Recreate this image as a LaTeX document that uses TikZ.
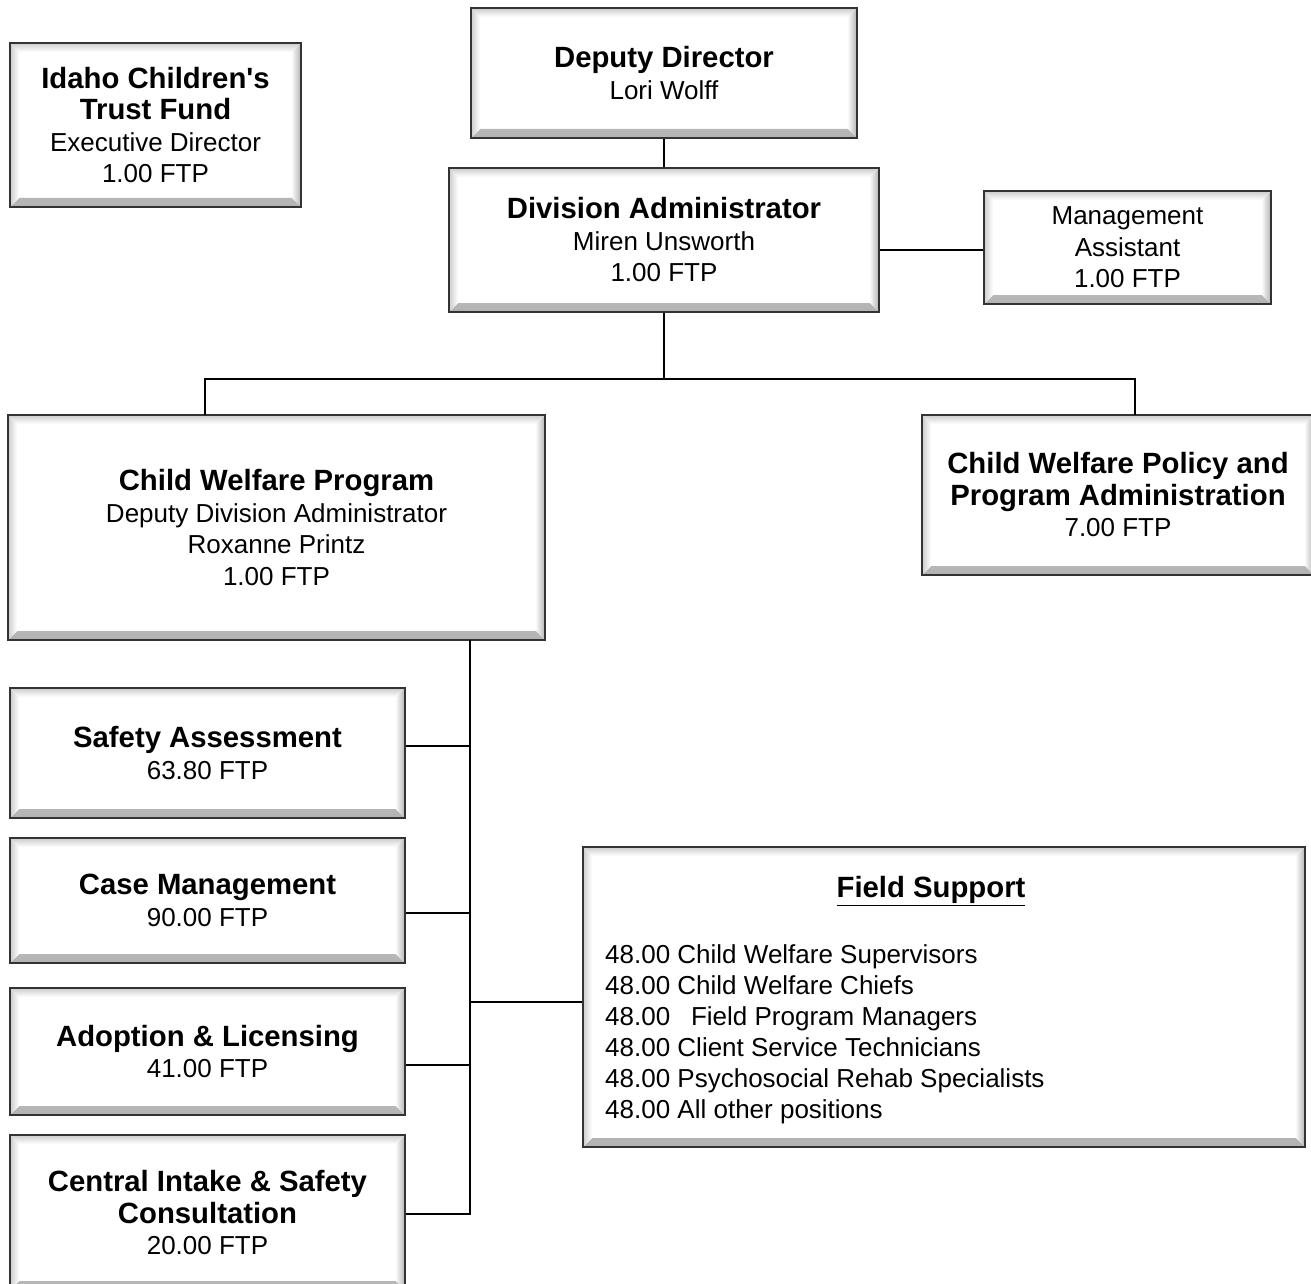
\documentclass[tikz,border=0pt]{standalone}
\usepackage{fontspec}
\setmainfont{Liberation Sans}[Ligatures=TeXOff]
\begin{document}
\begin{tikzpicture}[x=1pt,y=-1pt]
\tikzset{
  orgbox/.style={draw=black!80, line width=2.6pt, fill=white, inner sep=0pt, align=center,
    font=\fontsize{26}{31.5}\selectfont,
    path picture={
      \shade[top color=gray!5, bottom color=gray!60]
        (path picture bounding box.south west) -- (path picture bounding box.south east)
        -- ([shift={(-9pt,9pt)}]path picture bounding box.south east)
        -- ([shift={(9pt,9pt)}]path picture bounding box.south west) -- cycle;
      \shade[left color=gray!5, right color=gray!60]
        (path picture bounding box.south east) -- (path picture bounding box.north east)
        -- ([shift={(-9pt,-9pt)}]path picture bounding box.north east)
        -- ([shift={(-9pt,9pt)}]path picture bounding box.south east) -- cycle;
      \shade[top color=gray!40, bottom color=white]
        (path picture bounding box.north west) -- (path picture bounding box.north east)
        -- ([shift={(-9pt,-9pt)}]path picture bounding box.north east)
        -- ([shift={(9pt,-9pt)}]path picture bounding box.north west) -- cycle;
      \shade[left color=gray!40, right color=white]
        (path picture bounding box.north west) -- (path picture bounding box.south west)
        -- ([shift={(9pt,9pt)}]path picture bounding box.south west)
        -- ([shift={(9pt,-9pt)}]path picture bounding box.north west) -- cycle;
    }},
  conn/.style={draw=black, line width=1.3pt},
  ttl/.style={font=\fontsize{29.3}{31.5}\selectfont\bfseries}
}
\newcommand\hd[1]{{\fontsize{29.3}{31.5}\selectfont\bfseries #1}}
\useasboundingbox (0,0) rectangle (1311,1284);
\fill[white] (0,0) rectangle (1311,1284);

\node[orgbox, minimum width=291pt, minimum height=164pt] (idaho) at (155.5,125)
  {\hd{Idaho Children's}\\\hd{Trust Fund}\\Executive Director\\1.00 FTP};
\node[orgbox, minimum width=386pt, minimum height=130pt] (dep) at (664,73)
  {\hd{Deputy Director}\\Lori Wolff};
\node[orgbox, minimum width=430pt, minimum height=144pt] (div) at (664,240)
  {\hd{Division Administrator}\\Miren Unsworth\\1.00 FTP};
\node[orgbox, minimum width=287pt, minimum height=113pt] (ma) at (1127.5,247.5)
  {Management\\Assistant\\1.00 FTP};
\node[orgbox, minimum width=537pt, minimum height=225pt] (cwp) at (276.5,527.5)
  {\hd{Child Welfare Program}\\Deputy Division Administrator\\Roxanne Printz\\1.00 FTP};
\node[orgbox, minimum width=392pt, minimum height=160pt] (pol) at (1118,495)
  {\hd{Child Welfare Policy and}\\\hd{Program Administration}\\7.00 FTP};
\node[orgbox, minimum width=395pt, minimum height=130pt] (safe) at (207.5,753)
  {\hd{Safety Assessment}\\63.80 FTP};
\node[orgbox, minimum width=395pt, minimum height=125pt] (case) at (207.5,900.5)
  {\hd{Case Management}\\90.00 FTP};
\node[orgbox, minimum width=395pt, minimum height=127pt] (adopt) at (207.5,1051.5)
  {\hd{Adoption \& Licensing}\\41.00 FTP};
\node[orgbox, minimum width=395pt, minimum height=155pt] (cent) at (207.5,1212.5)
  {\hd{Central Intake \& Safety}\\\hd{Consultation}\\20.00 FTP};
\node[orgbox, minimum width=722pt, minimum height=300pt] (field) at (944,997) {};
\node[ttl] (fieldttl) at (931,891) {\underline{Field Support}};
\node[anchor=west, align=left, inner sep=0pt, font=\fontsize{26}{31}\selectfont] (fieldlist) at (605,1034)
  {48.00 Child Welfare Supervisors\\
   48.00 Child Welfare Chiefs\\
   48.00\hspace{0.8em}Field Program Managers\\
   48.00 Client Service Technicians\\
   48.00 Psychosocial Rehab Specialists\\
   48.00 All other positions};

% connectors
\coordinate (bus) at (664,379);
\coordinate (cwpIn) at (205,415);
\coordinate (polIn) at (1135,415);
\coordinate (trunk) at (470,640);
\coordinate (trunkEnd) at (470,1215);
\draw[conn] (dep.south) -- (div.north);
\draw[conn] (ma.west |- 0,250) -- (div.east |- 0,250);
\draw[conn] (div.south) -- (bus);
\draw[conn] (cwpIn) |- (polIn |- bus) -- (polIn);
\draw[conn] (trunk) -- (trunkEnd);
\draw[conn] (safe.east |- 0,746) -- (470,746);
\draw[conn] (case.east |- 0,913) -- (470,913);
\draw[conn] (adopt.east |- 0,1065) -- (470,1065);
\draw[conn] (cent.east |- 0,1214) -- (470,1214);
\draw[conn] (470,1002) -- (field.west |- 0,1002);
\end{tikzpicture}
\end{document}
